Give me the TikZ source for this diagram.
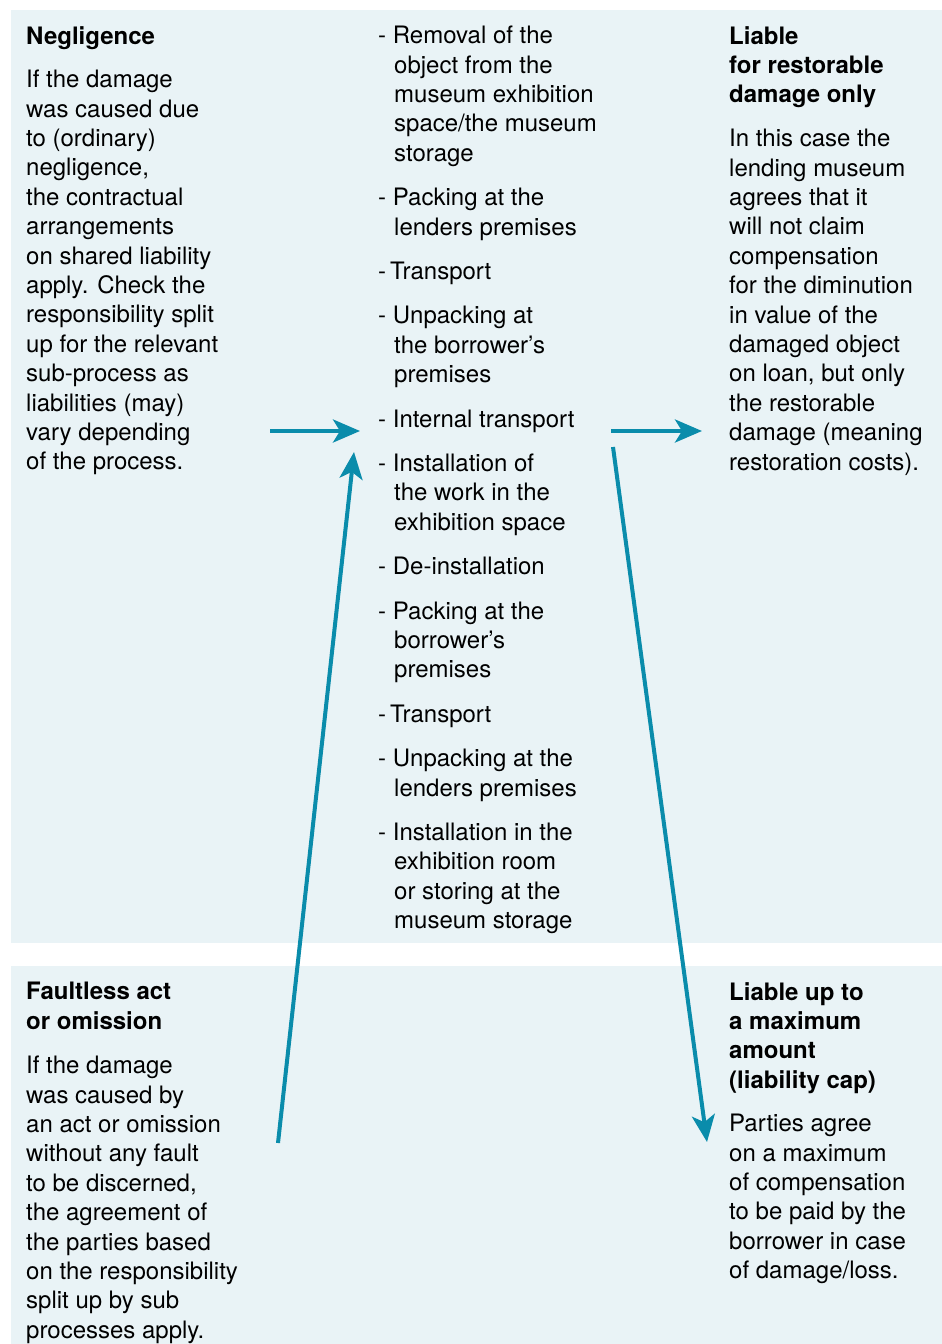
\documentclass[tikz,border=0pt]{standalone}
\usepackage{fontspec}
\setmainfont{TeX Gyre Heros}
\usetikzlibrary{arrows.meta}
\definecolor{panelblue}{HTML}{E9F3F6}
\definecolor{arrowteal}{HTML}{0A8CAB}
\tikzset{
  txt/.style={anchor=north west, inner sep=0pt, align=left, font=\fontsize{24}{29.4}\selectfont},
  head/.style={txt, font=\fontsize{24}{29.4}\selectfont\bfseries},
  flow/.style={draw=arrowteal, line width=4pt, -{Stealth[length=27pt,width=23pt,inset=7pt]}}
}
\newcommand{\ind}{\hspace*{16pt}}
\begin{document}
\begin{tikzpicture}[x=1pt,y=-1pt]
    \useasboundingbox (0,0) rectangle (942,1344);
    \fill[panelblue] (11,10) rectangle (942,943);
    \fill[panelblue] (11,966) rectangle (942,1344);
    % top row
    \node[head] (negl) at (26,26) {Negligence};
    \node[txt] (neglText) at (26,70) {If the damage\\was caused due\\to (ordinary)\\negligence,\\the contractual\\arrangements\\on shared liability\\apply. Check the\\responsibility split\\up for the relevant\\sub-process as\\liabilities (may)\\vary depending\\of the process.};
    \node[txt] (steps) at (378,26) {- Removal of the\\\ind object from the\\\ind museum exhibition\\\ind space/the museum\\\ind storage\\[15pt]
      - Packing at the\\\ind lenders premises\\[15pt]
      -\,Transport\\[15pt]
      - Unpacking at\\\ind the borrower’s\\\ind premises\\[15pt]
      - Internal transport\\[15pt]
      - Installation of\\\ind the work in the\\\ind exhibition space\\[15pt]
      - De-installation\\[15pt]
      - Packing at the\\\ind borrower’s\\\ind premises\\[15pt]
      -\,Transport\\[15pt]
      - Unpacking at the\\\ind lenders premises\\[15pt]
      - Installation in the\\\ind exhibition room\\\ind or storing at the\\\ind museum storage};
    \node[head] (restor) at (729,26) {Liable\\for restorable\\damage only};
    \node[txt] (restorText) at (729,129) {In this case the\\lending museum\\agrees that it\\will not claim\\compensation\\for the diminution\\in value of the\\damaged object\\on loan, but only\\the restorable\\damage (meaning\\restoration costs).};
    % bottom row
    \node[head] (faultless) at (26,982) {Faultless act\\or omission};
    \node[txt] (faultText) at (26,1056) {If the damage\\was caused by\\an act or omission\\without any fault\\to be discerned,\\the agreement of\\the parties based\\on the responsibility\\split up by sub\\processes apply.};
    \node[head] (cap) at (729,982) {Liable up to\\a maximum\\amount\\(liability cap)};
    \node[txt] (capText) at (729,1114) {Parties agree\\on a maximum\\of compensation\\to be paid by the\\borrower in case\\of damage/loss.};
    % arrows
    \coordinate (neglOut) at (270,431);
    \coordinate (stepsIn) at (360,431);
    \coordinate (stepsOut) at (611,431);
    \coordinate (restorIn) at (702,431);
    \coordinate (faultOut) at (278,1143);
    \coordinate (stepsInB) at (354,452);
    \coordinate (stepsOutB) at (613,447);
    \coordinate (capIn) at (707,1142);
    \draw[flow] (neglOut) -- (stepsIn);
    \draw[flow] (stepsOut) -- (restorIn);
    \draw[flow] (faultOut) -- (stepsInB);
    \draw[flow] (stepsOutB) -- (capIn);
\end{tikzpicture}
\end{document}
